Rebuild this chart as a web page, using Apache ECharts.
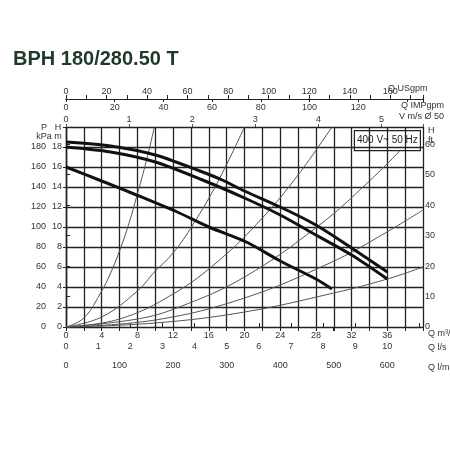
<!DOCTYPE html>
<html><head><meta charset="utf-8">
<script src="https://cdn.jsdelivr.net/npm/echarts@6/dist/echarts.min.js"></script>
<style>html,body{margin:0;padding:0;background:#fff}#c{width:450px;height:450px}</style>
</head><body><div id="c"></div>
<script>
const title = 'BPH 180/280.50 T';
const pumpTop = [[0,18.5],[5,18.1],[10,17.2],[15,15.6],[17.5,14.7],[20,13.6],[24,12],[28,10.2],[32,7.9],[36,5.5]];
const pumpMid = [[0,18.0],[5,17.5],[10,16.5],[15.3,14.7],[20,12.9],[24,11.2],[27.6,9.4],[32,7.2],[36,4.8]];
const pumpLow = [[0,16],[4,14.6],[7.9,13.2],[12.7,11.4],[16,10],[20.2,8.5],[24,6.6],[28,4.8],[29.8,3.8]];
const sys1 = [[0,0],[2,0.9],[4,3.6],[5,5.4],[6,7.6],[7,10.2],[8,13.3],[9,16.6],[9.9,20]];
const sys2 = [[0,0],[4,1],[8,3.6],[9.9,5.5],[12,7.4],[14.2,10.2],[17,14.5],[20,20]];
const sys3 = [[0,0],[6,0.8],[12,3.3],[17.2,6.7],[22,10.9],[26,15.2],[29.8,20]];
const sys4 = [[0,0],[8,0.8],[12.7,2],[20,5],[28.4,10.2],[34,14.6],[37.5,17.7]];
const sys5 = [[0,0],[10,0.7],[20,2.9],[29.8,6.5],[35,9],[40,11.7]];
const sys6 = [[0,0],[10,0.4],[20,1.5],[30,3.4],[36,4.8],[40,6]];
const boxLabel = '400 V~ 50 Hz';

const ch = echarts.init(document.getElementById('c'));
const F = 'Liberation Sans Narrow, Liberation Sans, sans-serif';
const lab = {fontSize:9, color:'#333', fontFamily:F};
const ax = {lineStyle:{color:'#222',width:1.2}};
function xa(o){return Object.assign({type:'value',splitLine:{show:false},axisLine:ax,axisTick:{lineStyle:{color:'#222'},length:4}},o);}
function t(x,y,text,align){return {type:'text',x:x,y:y,style:{text:text,align:align||'left',verticalAlign:'middle',fontSize:9,fill:'#333',fontFamily:F}};}
ch.setOption({
  animation:false,
  title:{text:title,left:8,top:44,textStyle:{fontSize:20,fontWeight:'bold',color:'#1f3a2b',fontFamily:F}},
  grid:{left:66,right:27,top:127,bottom:123,containLabel:false,outerBoundsMode:'none'},
  xAxis:[
    xa({min:0,max:40,interval:2,position:'bottom',axisLabel:Object.assign({},lab,{margin:4,formatter:v=>(v%4===0&&v<40)?v:''}),
      splitLine:{show:true,lineStyle:{color:'#222',width:1.3}}}),
    xa({min:0,max:40/3.6,interval:1,position:'bottom',offset:30,axisLabel:Object.assign({},lab,{inside:true,margin:6,formatter:v=>(v<=10)?v:''}),
      axisTick:{inside:true,length:4,lineStyle:{color:'#222'}}}),
    xa({min:0,max:40/0.06,interval:100,position:'bottom',offset:30,axisLabel:Object.assign({},lab,{margin:4,formatter:v=>(v<=600)?v:''})}),
    xa({min:0,max:40/7.07,interval:1,position:'top',axisLine:{show:false},axisTick:{length:3},axisLabel:Object.assign({},lab,{margin:3,formatter:v=>(v<=5)?v:''})}),
    xa({min:0,max:40/0.2728,interval:20,position:'top',offset:28,axisLabel:Object.assign({},lab,{inside:true,margin:4,formatter:v=>(v<=120)?v:''}),
      axisTick:{inside:true,length:3,lineStyle:{color:'#222'}}}),
    xa({min:0,max:40/0.2271,interval:10,position:'top',offset:28,axisLabel:Object.assign({},lab,{margin:3,formatter:v=>(v%20===0&&v<=160)?v:''})})
  ],
  yAxis:[
    {type:'value',min:0,max:20,interval:2,position:'left',axisLine:ax,axisTick:{show:false},
     axisLabel:Object.assign({},lab,{margin:4,formatter:v=>v<20?v:''}),splitLine:{show:true,lineStyle:{color:'#222',width:1.3}}},
    {type:'value',min:0,max:200,interval:20,position:'left',offset:18,axisLine:ax,axisTick:{length:3,lineStyle:{color:'#222'}},
     axisLabel:Object.assign({},lab,{margin:2,formatter:v=>v<200?v:''}),splitLine:{show:false}},
    {type:'value',min:0,max:20/0.3048,interval:10,position:'right',axisLine:ax,axisTick:{length:4,lineStyle:{color:'#222'}},
     axisLabel:Object.assign({},lab,{margin:2,formatter:v=>v<=60?v:''}),splitLine:{show:false}}
  ],
  graphic:[
    {type:'group',right:29,top:130,children:[
      {type:'rect',shape:{x:0,y:0,width:66,height:20},style:{fill:'#fff',stroke:'#222',lineWidth:1.2}},
      {type:'text',style:{x:33,y:10,text:boxLabel,align:'center',verticalAlign:'middle',fontSize:10,fill:'#222',fontFamily:F}}]},
    t(44,128,'P','center'), t(44,137,'kPa','center'),
    t(58,128,'H','center'), t(58,137,'m','center'),
    t(428,131,'H'), t(428,141,'ft'),
    t(388,89,'Q USgpm'), t(444,106,'Q IMPgpm','right'), t(444,117,'V m/s Ø 50','right'),
    t(428,334,'Q m³/h'), t(428,348,'Q l/s'), t(428,368,'Q l/min')
  ],
  series:[
    ...[sys1,sys2,sys3,sys4,sys5,sys6].map(d=>({type:'line',data:d,smooth:0.4,symbol:'none',lineStyle:{color:'#555',width:1},z:2})),
    ...[pumpTop,pumpMid,pumpLow].map(d=>({type:'line',data:d,smooth:0.3,symbol:'none',lineStyle:{color:'#111',width:3},z:3}))
  ]
});
</script></body></html>
